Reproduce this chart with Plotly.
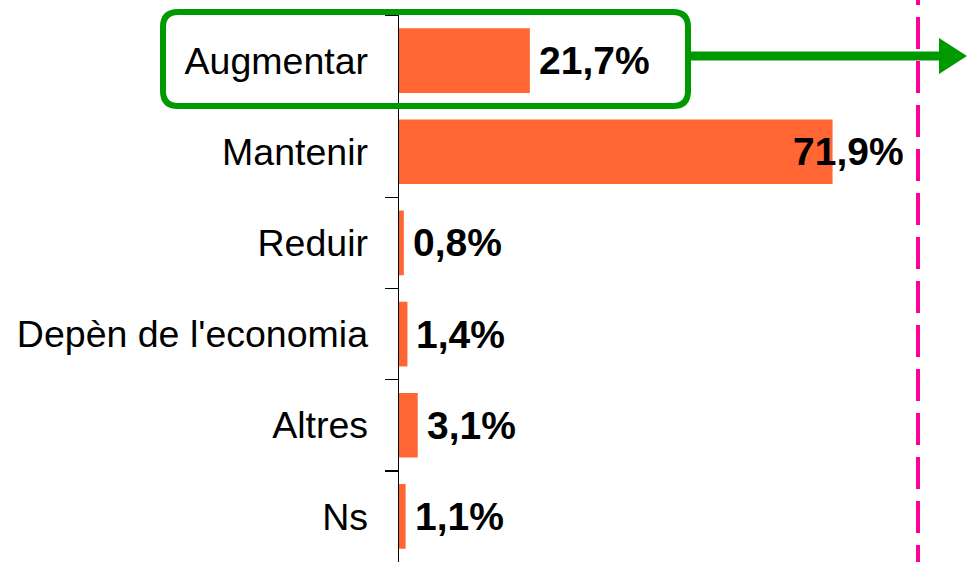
import plotly.graph_objects as go

categories = ["Augmentar", "Mantenir", "Reduir", "Depèn de l'economia", "Altres", "Ns"]
values = [21.7, 71.9, 0.8, 1.4, 3.1, 1.1]

W, H = 967, 562
ML, MR, MT, MB = 399, 0, 15, 0
PW, PH = W - ML - MR, H - MT - MB
PX_PER_UNIT = 6.03
XMAX = PW / PX_PER_UNIT
LABEL_LIMIT = 84.1  # right edge clamp for value labels (data units)

def px_x(px):
    return (px - ML) / PW

def px_y(py):
    return (H - MB - py) / PH

FONT = "Liberation Sans, Arial, sans-serif"
ORANGE = "#FF6633"
GREEN = "#009900"
PINK = "#FF0099"

fig = go.Figure(go.Bar(
    y=categories, x=values, orientation="h",
    marker=dict(color=ORANGE, line=dict(width=0)),
    hoverinfo="skip",
))

annotations = []
for c, v in zip(categories, values):
    txt = f"{v:.1f}".replace(".", ",") + "%"
    if v > 60:
        annotations.append(dict(x=LABEL_LIMIT, y=c, xref="x", yref="y", text=f"<b>{txt}</b>",
                                showarrow=False, xanchor="right", yanchor="middle",
                                font=dict(family=FONT, size=39, color="black")))
    else:
        annotations.append(dict(x=v, y=c, xref="x", yref="y", text=f"<b>{txt}</b>",
                                showarrow=False, xanchor="left", yanchor="middle", xshift=7,
                                font=dict(family=FONT, size=39, color="black")))

# Rounded green box around first row
bx0, bx1 = px_x(163), px_x(688)
by_top, by_bot = px_y(12), px_y(106)
rx, ry = 15 / PW, 15 / PH
box_path = (f"M {bx0+rx},{by_top} L {bx1-rx},{by_top} Q {bx1},{by_top} {bx1},{by_top-ry} "
            f"L {bx1},{by_bot+ry} Q {bx1},{by_bot} {bx1-rx},{by_bot} "
            f"L {bx0+rx},{by_bot} Q {bx0},{by_bot} {bx0},{by_bot+ry} "
            f"L {bx0},{by_top-ry} Q {bx0},{by_top} {bx0+rx},{by_top} Z")

ay = px_y(56)
tri = (f"M {px_x(967)},{ay} L {px_x(939)},{px_y(38)} L {px_x(939)},{px_y(74)} Z")

shapes = [
    dict(type="path", xref="paper", yref="paper", path=box_path,
         line=dict(color=GREEN, width=6), fillcolor="rgba(0,0,0,0)", layer="above"),
    dict(type="line", xref="paper", yref="paper", x0=bx1, x1=px_x(945), y0=ay, y1=ay,
         line=dict(color=GREEN, width=9), layer="above"),
    dict(type="path", xref="paper", yref="paper", path=tri,
         line=dict(color=GREEN, width=0), fillcolor=GREEN, layer="above"),
    dict(type="line", xref="paper", yref="paper", x0=px_x(918), x1=px_x(918),
         y0=px_y(-27), y1=px_y(570),
         line=dict(color=PINK, width=4, dash="32px,12px"), layer="above"),
]

fig.update_layout(
    width=W, height=H,
    margin=dict(l=ML, r=MR, t=MT, b=MB, pad=0),
    paper_bgcolor="white", plot_bgcolor="white",
    bargap=0.29,
    showlegend=False,
    hovermode=False,
    annotations=annotations,
    shapes=shapes,
    xaxis=dict(range=[0, XMAX], visible=False, showgrid=False, zeroline=False),
    yaxis=dict(
        categoryorder="array", categoryarray=categories, autorange="reversed",
        showline=True, linecolor="black", linewidth=1.5,
        ticks="outside", tickson="boundaries", ticklen=13, tickcolor="black", tickwidth=1.5,
        ticklabelstandoff=22,
        tickfont=dict(family=FONT, size=37.5, color="black"),
        showgrid=False, zeroline=False,
    ),
    font=dict(family=FONT),
)

fig.write_html("out.html",
               config={"displayModeBar": False, "staticPlot": True},
               post_script="document.body.style.margin='0';document.body.style.padding='0';"
                           "document.documentElement.style.overflow='hidden';")
